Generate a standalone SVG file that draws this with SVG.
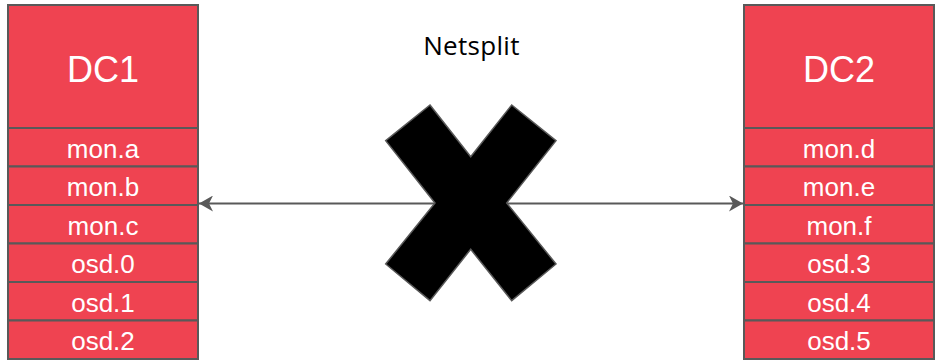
<svg xmlns="http://www.w3.org/2000/svg" width="938" height="361" viewBox="0 0 938 361">
<style>
.cell{fill:#EF4351;stroke:#595959;stroke-width:2}
.t{font-family:"Liberation Sans",Arial,sans-serif;fill:#fff;text-anchor:middle}
.dc{font-size:36px}
.r{font-size:26px}
.conn{stroke:#595959;stroke-width:2;fill:none}
</style>
<defs>
<marker id="ah" viewBox="0 0 16 16" refX="15" refY="8" markerWidth="16" markerHeight="16" markerUnits="userSpaceOnUse" orient="auto-start-reverse">
<path d="M15,8 L1,0 L5,8 L1,16 Z" fill="#595959"/>
</marker>
</defs>
<rect width="938" height="361" fill="#fff"/>
<g id="dc1">
<rect class="cell" x="8" y="5" width="190" height="123"/>
<text class="t dc" x="103" y="82">DC1</text>
<rect class="cell" x="8" y="128" width="190" height="38.5"/>
<text class="t r" x="103" y="157.5">mon.a</text>
<rect class="cell" x="8" y="166.5" width="190" height="38.5"/>
<text class="t r" x="103" y="196">mon.b</text>
<rect class="cell" x="8" y="205" width="190" height="38.5"/>
<text class="t r" x="103" y="234.5">mon.c</text>
<rect class="cell" x="8" y="243.5" width="190" height="38.5"/>
<text class="t r" x="103" y="273">osd.0</text>
<rect class="cell" x="8" y="282" width="190" height="38.5"/>
<text class="t r" x="103" y="311.5">osd.1</text>
<rect class="cell" x="8" y="320.5" width="190" height="38.5"/>
<text class="t r" x="103" y="350">osd.2</text>
</g>
<g id="dc2">
<rect class="cell" x="744" y="5" width="190" height="123"/>
<text class="t dc" x="839" y="82">DC2</text>
<rect class="cell" x="744" y="128" width="190" height="38.5"/>
<text class="t r" x="839" y="157.5">mon.d</text>
<rect class="cell" x="744" y="166.5" width="190" height="38.5"/>
<text class="t r" x="839" y="196">mon.e</text>
<rect class="cell" x="744" y="205" width="190" height="38.5"/>
<text class="t r" x="839" y="234.5">mon.f</text>
<rect class="cell" x="744" y="243.5" width="190" height="38.5"/>
<text class="t r" x="839" y="273">osd.3</text>
<rect class="cell" x="744" y="282" width="190" height="38.5"/>
<text class="t r" x="839" y="311.5">osd.4</text>
<rect class="cell" x="744" y="320.5" width="190" height="38.5"/>
<text class="t r" x="839" y="350">osd.5</text>
</g>
<g id="connectors">
<line class="conn" x1="199" y1="203.5" x2="436" y2="203.5" marker-start="url(#ah)"/>
<line class="conn" x1="506" y1="203.5" x2="743" y2="203.5" marker-end="url(#ah)"/>
</g>
<g id="netsplit">
<polygon points="430,105 470.7,156.7 511.7,105 556,140.7 506.7,203 556,264 511.7,300.7 470.7,249.3 430,300.7 385.7,264 435,203 385.7,140.7" fill="#000" stroke="#595959" stroke-width="1.5" stroke-linejoin="miter"/>
<text x="471.5" y="55" font-family="'Open Sans','Noto Sans',sans-serif" font-size="26" letter-spacing="0.3" text-anchor="middle" fill="#000">Netsplit</text>
</g>
</svg>
